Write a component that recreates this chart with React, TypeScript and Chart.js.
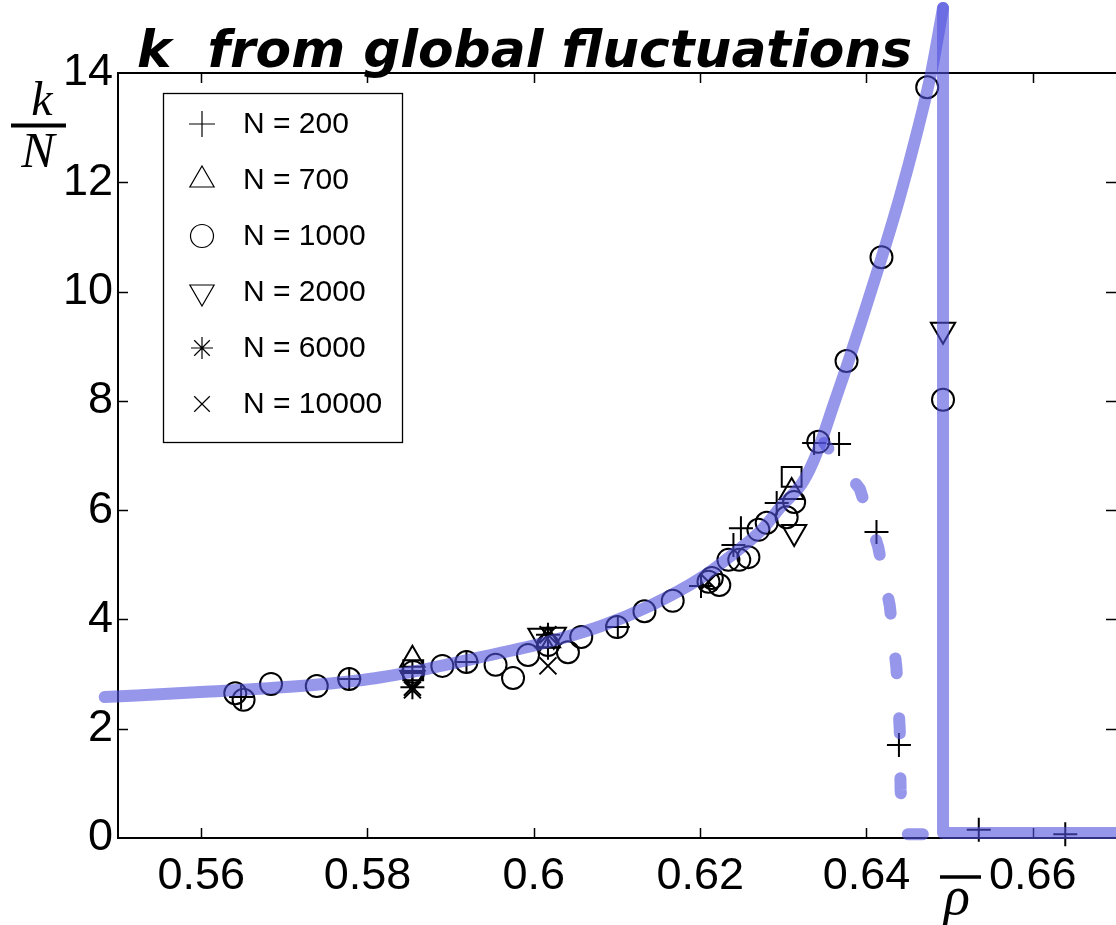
import React, { useEffect, useRef } from "react";
import { Chart, registerables } from "chart.js";

Chart.register(...registerables);

// ---------- data ----------
const xTickValues = [0.56, 0.58, 0.6, 0.62, 0.64, 0.66];
const xTickLabels = ["0.56", "0.58", "0.6", "0.62", "0.64", "0.66"];
const yTickValues = [0, 2, 4, 6, 8, 10, 12, 14];
const yTickLabels = ["0", "2", "4", "6", "8", "10", "12", "14"];

// smooth rising fit curve
const fitRho = [0.5484, 0.5599, 0.5719, 0.5802, 0.5876, 0.596, 0.6002, 0.6081, 0.6141, 0.6201, 0.6249, 0.6274, 0.6298, 0.6322, 0.6334, 0.6346, 0.636, 0.6376, 0.6394, 0.6418, 0.644, 0.646, 0.6478, 0.6492];
const fitK = [2.58, 2.67, 2.78, 2.91, 3.11, 3.39, 3.53, 3.88, 4.26, 4.76, 5.31, 5.64, 6.08, 6.48, 6.82, 7.28, 7.91, 8.62, 9.46, 10.61, 11.73, 12.87, 14.02, 15.19];
// vertical drop and flat tail of the fit
const dropRho = [0.6492, 0.6492, 0.6707];
const dropK = [15.19, 0.09, 0.09];

const dashRho = [0.6349, 0.6392, 0.6414, 0.6428, 0.6436, 0.644, 0.6441, 0.6445, 0.6492];
const dashK = [7.23, 6.39, 5.33, 4.25, 3.11, 1.98, 0.88, 0.07, 0.07];

const n200Rho = [0.5648, 0.5778, 0.5854, 0.5919, 0.6017, 0.6101, 0.6201, 0.624, 0.6249, 0.6292, 0.6337, 0.6367, 0.6412, 0.6439, 0.6535, 0.6639];
const n200K = [2.58, 2.91, 3.02, 3.22, 3.48, 3.86, 4.61, 5.36, 5.67, 6.13, 7.23, 7.21, 5.6, 1.7, 0.15, 0.07];

const n700Rho = [0.5854, 0.6017, 0.631];
const n700K = [3.26, 3.62, 6.33];

const n1000Rho = [0.5641, 0.5651, 0.5684, 0.5739, 0.5778, 0.5855, 0.589, 0.5919, 0.5954, 0.5975, 0.5993, 0.6017, 0.6041, 0.6057, 0.61, 0.6133, 0.6167, 0.621, 0.6223, 0.6214, 0.6234, 0.6247, 0.6258, 0.627, 0.628, 0.6304, 0.6313, 0.6342, 0.6376, 0.6418, 0.6473, 0.6492];
const n1000K = [2.65, 2.53, 2.82, 2.78, 2.91, 3.04, 3.15, 3.22, 3.17, 2.93, 3.35, 3.53, 3.4, 3.68, 3.86, 4.15, 4.34, 4.69, 4.63, 4.76, 5.09, 5.09, 5.14, 5.64, 5.77, 5.87, 6.15, 7.25, 8.73, 10.63, 13.74, 8.02];

const n2000Rho = [0.5854, 0.6008, 0.6024, 0.6313, 0.6492];
const n2000K = [2.93, 3.7, 3.72, 5.6, 9.3];

const n6000Rho = [0.5854, 0.6017];
const n6000K = [2.76, 3.72];

const n10000Rho = [0.5854, 0.6017, 0.621];
const n10000K = [2.71, 3.15, 4.69];

const otherRho = [0.5855, 0.631];
const otherK = [3.07, 6.61];

const legendLabels = ["N = 200", "N = 700", "N = 1000", "N = 2000", "N = 6000", "N = 10000"];
const legendStyles = ["cross", "triangle", "circle", "triangleDown", "star", "crossRot"];

// ---------- styles ----------
const LINE_COLOR = "rgba(80, 80, 222, 0.6)";
const TICK_FONT = '"Liberation Sans", Arial, sans-serif';

const pts = (xs: number[], ys: number[]) => xs.map((x, i) => ({ x, y: ys[i] }));

function drawMarker(ctx: CanvasRenderingContext2D, style: string, x: number, y: number, r: number) {
  ctx.beginPath();
  const q = Math.SQRT1_2 * r;
  switch (style) {
    case "cross":
      ctx.moveTo(x - r, y); ctx.lineTo(x + r, y);
      ctx.moveTo(x, y - r); ctx.lineTo(x, y + r);
      break;
    case "crossRot":
      ctx.moveTo(x - q, y - q); ctx.lineTo(x + q, y + q);
      ctx.moveTo(x - q, y + q); ctx.lineTo(x + q, y - q);
      break;
    case "star":
      ctx.moveTo(x - r, y); ctx.lineTo(x + r, y);
      ctx.moveTo(x, y - r); ctx.lineTo(x, y + r);
      ctx.moveTo(x - q, y - q); ctx.lineTo(x + q, y + q);
      ctx.moveTo(x - q, y + q); ctx.lineTo(x + q, y - q);
      break;
    case "circle":
      ctx.arc(x, y, r, 0, Math.PI * 2);
      break;
    case "triangle":
    case "triangleDown": {
      const s = style === "triangle" ? 1 : -1;
      for (let i = 0; i < 3; i++) {
        const a = (i * 2 * Math.PI) / 3;
        const px = x + Math.sin(a) * r;
        const py = y - s * Math.cos(a) * r;
        if (i === 0) ctx.moveTo(px, py); else ctx.lineTo(px, py);
      }
      ctx.closePath();
      break;
    }
  }
  ctx.stroke();
}

const framePlugin = {
  id: "frame",
  beforeDatasetsDraw(chart: any) {
    const { ctx, chartArea } = chart;
    const { left, right, top, bottom } = chartArea;
    const xs = chart.scales.x;
    const ys = chart.scales.y;
    ctx.save();
    ctx.strokeStyle = "#000";
    ctx.lineWidth = 2;
    ctx.beginPath();
    ctx.moveTo(right + 4, top);
    ctx.lineTo(left, top);
    ctx.lineTo(left, bottom);
    ctx.lineTo(right + 4, bottom);
    ctx.stroke();
    ctx.lineWidth = 1.5;
    ctx.beginPath();
    const tl = 10;
    xs.ticks.forEach((t: any) => {
      const px = Math.round(xs.getPixelForValue(t.value)) + 0.5;
      ctx.moveTo(px, bottom); ctx.lineTo(px, bottom - tl);
      ctx.moveTo(px, top); ctx.lineTo(px, top + tl);
    });
    ys.ticks.forEach((t: any) => {
      const py = Math.round(ys.getPixelForValue(t.value)) + 0.5;
      if (t.value === 0 || t.value === 14) return;
      ctx.moveTo(left, py); ctx.lineTo(left + tl, py);
      ctx.moveTo(right, py); ctx.lineTo(right - tl, py);
    });
    ctx.stroke();
    ctx.restore();
  },
  afterDraw(chart: any) {
    const { ctx } = chart;
    ctx.save();
    // legend box
    ctx.strokeStyle = "#000";
    ctx.lineWidth = 1.3;
    ctx.strokeRect(163.5, 93.5, 239, 349);
    const radii: Record<string, number> = { cross: 13, triangle: 14, circle: 11.5, triangleDown: 14, star: 11, crossRot: 11 };
    ctx.font = '30px "Liberation Sans", Arial, sans-serif';
    ctx.fillStyle = "#000";
    ctx.textBaseline = "middle";
    ctx.textAlign = "left";
    legendLabels.forEach((lab, i) => {
      const y = 124 + i * 56;
      ctx.lineWidth = 1.2;
      drawMarker(ctx, legendStyles[i], 202, y, radii[legendStyles[i]]);
      ctx.fillText(lab, 243, y + 1);
    });

    // title
    const title = "k  from global fluctuations";
    ctx.font = 'italic bold 52px "DejaVu Sans", sans-serif';
    const w = ctx.measureText(title).width;
    const size = (52 * 775) / w;
    ctx.font = `italic bold ${size.toFixed(1)}px "DejaVu Sans", sans-serif`;
    ctx.textBaseline = "alphabetic";
    ctx.fillText(title, 137, 67);

    // y label k/N
    ctx.font = 'italic 48px "Liberation Serif", "DejaVu Serif", serif';
    ctx.textAlign = "center";
    ctx.fillText("k", 42, 115);
    ctx.font = 'italic 50px "Liberation Serif", "DejaVu Serif", serif';
    ctx.fillText("N", 38, 167);
    ctx.lineWidth = 4;
    ctx.beginPath();
    ctx.moveTo(11, 125.5);
    ctx.lineTo(66, 125.5);
    ctx.stroke();

    // x label rho-bar
    ctx.font = 'italic 54px "Liberation Serif", "DejaVu Serif", serif';
    ctx.textAlign = "center";
    ctx.fillText("ρ", 957, 914);
    ctx.lineWidth = 3.5;
    ctx.beginPath();
    ctx.moveTo(940, 877);
    ctx.lineTo(981, 877);
    ctx.stroke();
    ctx.restore();
  },
};

export default function App() {
  const ref = useRef<HTMLCanvasElement | null>(null);
  useEffect(() => {
    if (!ref.current) return;
    const marker = (label: string, xs: number[], ys: number[], style: string, r: number, rot = 0) => ({
      label,
      data: pts(xs, ys),
      pointStyle: style,
      pointRadius: r,
      pointRotation: rot,
      pointBorderColor: "#000",
      pointBackgroundColor: "rgba(0,0,0,0)",
      pointBorderWidth: 2,
      showLine: false,
      clip: false,
    });
    const lineDs = (label: string, xs: number[], ys: number[], extra: any) => ({
      label,
      data: pts(xs, ys),
      showLine: true,
      borderColor: LINE_COLOR,
      borderWidth: 12,
      borderCapStyle: "round",
      borderJoinStyle: "round",
      pointRadius: 0,
      clip: false,
      ...extra,
    });
    const chart = new Chart(ref.current, {
      type: "scatter",
      data: {
        datasets: [
          lineDs("fit", fitRho, fitK, { cubicInterpolationMode: "monotone" }),
          lineDs("fit drop", dropRho, dropK, { tension: 0 }),
          lineDs("fit dashed", dashRho, dashK, { tension: 0, borderDash: [15, 45], borderDashOffset: 8 }),
          marker("N = 200", n200Rho, n200K, "cross", 12),
          marker("N = 700", n700Rho, n700K, "triangle", 14),
          marker("N = 1000", n1000Rho, n1000K, "circle", 11),
          marker("N = 2000", n2000Rho, n2000K, "triangle", 14, 180),
          marker("N = 6000", n6000Rho, n6000K, "star", 12),
          marker("N = 10000", n10000Rho, n10000K, "crossRot", 12),
          marker("other", otherRho, otherK, "rect", 14),
        ] as any,
      },
      options: {
        animation: false,
        responsive: false,
        layout: { autoPadding: false, padding: { top: 73, right: 0, left: 0, bottom: 0 } },
        plugins: { legend: { display: false }, tooltip: { enabled: false }, title: { display: false } },
        scales: {
          x: {
            type: "linear",
            min: 0.55,
            max: 0.67,
            afterBuildTicks: (s: any) => { s.ticks = xTickValues.map((v) => ({ value: v })); },
            afterFit: (s: any) => { s.height = 87; s.paddingLeft = 0; s.paddingRight = 0; },
            grid: { display: false, drawTicks: false },
            border: { display: false },
            ticks: {
              padding: 12,
              color: "#000",
              font: { family: TICK_FONT, size: 45 },
              maxRotation: 0,
              autoSkip: false,
              callback: (_v: any, i: number) => xTickLabels[i],
            },
          },
          y: {
            type: "linear",
            min: 0,
            max: 14,
            afterBuildTicks: (s: any) => { s.ticks = yTickValues.map((v) => ({ value: v })); },
            afterFit: (s: any) => { s.width = 118; s.paddingTop = 0; s.paddingBottom = 0; },
            grid: { display: false, drawTicks: false },
            border: { display: false },
            ticks: {
              padding: 5,
              color: "#000",
              font: { family: TICK_FONT, size: 45 },
              autoSkip: false,
              callback: (_v: any, i: number) => yTickLabels[i],
            },
          },
        },
      },
      plugins: [framePlugin],
    });
    return () => chart.destroy();
  }, []);
  return (
    <div style={{ position: "fixed", left: 0, top: 0, width: 1116, height: 925, background: "#fff" }}>
      <canvas ref={ref} width={1116} height={925} style={{ width: 1116, height: 925, display: "block" }} />
    </div>
  );
}
